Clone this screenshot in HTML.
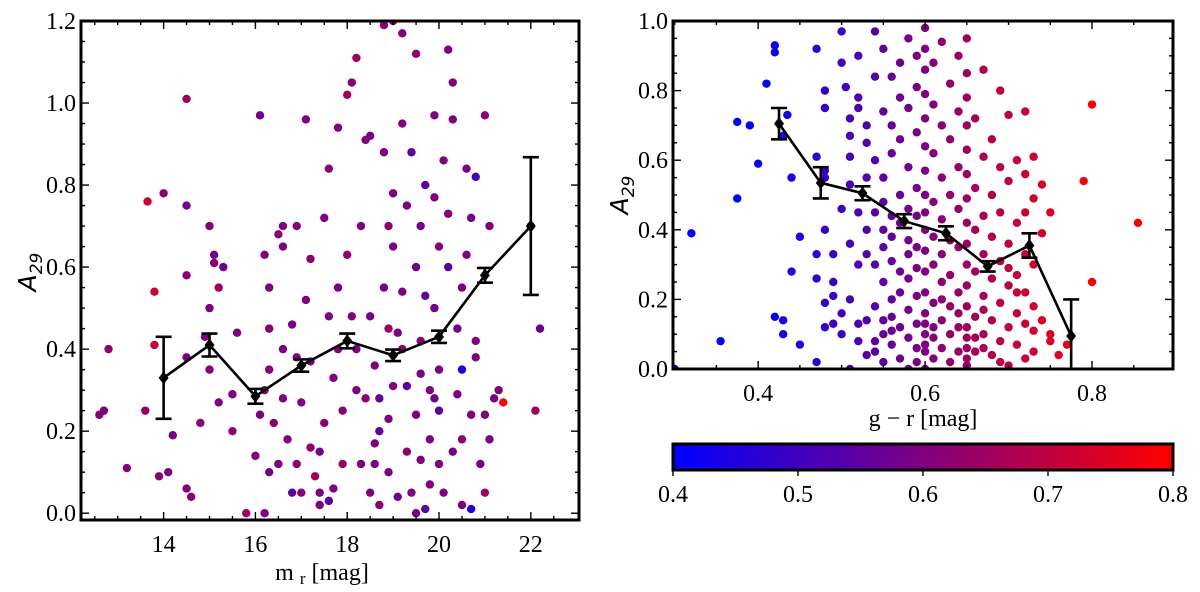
<!DOCTYPE html>
<html><head><meta charset="utf-8"><style>
html,body{margin:0;padding:0;background:#fff;}
svg{display:block;font-family:"Liberation Serif",serif;}
</style></head><body>
<svg id="chart" width="1200" height="592" viewBox="0 0 1200 592" xmlns="http://www.w3.org/2000/svg" font-family="Liberation Serif, serif">
<defs><linearGradient id="cmap" x1="0" x2="1" y1="0" y2="0"><stop offset="0" stop-color="#0000ff"/><stop offset="1" stop-color="#ff0000"/></linearGradient></defs>
<g id="left"></g>
<g id="right"></g>
<g id="cbar"></g>
</svg>
<script>
// ---- Left panel data: m_r, A29, color (g-r) ----
const leftMr=[12.6,12.7,12.8,13.2,13.6,13.65,13.8,13.8,13.9,14.0,14.1,14.2,14.5,14.5,14.5,14.5,14.5,14.6,14.8,14.9,15.0,15.0,15.0,15.1,15.2,15.2,15.3,15.5,15.6,15.5,15.8,16.0,16.1,16.1,16.2,16.3,16.2,16.3,16.3,16.3,16.4,16.5,16.6,16.6,16.6,16.7,16.8,16.8,16.9,16.9,17.0,17.0,17.1,17.1,17.2,17.2,17.3,17.4,17.4,17.4,17.5,17.5,17.6,17.6,17.6,17.7,17.7,17.8,17.9,17.9,18.0,18.0,18.1,18.2,18.1,18.2,18.3,18.3,18.4,18.5,18.5,18.5,18.6,18.6,18.7,18.7,18.7,18.8,18.8,18.8,18.9,18.9,19.0,19.0,19.0,19.1,19.1,19.2,19.2,19.2,19.3,19.3,19.3,19.4,19.4,19.5,19.5,19.5,19.6,19.6,19.6,19.7,19.7,19.7,19.8,19.8,19.8,19.9,19.9,20.0,20.0,20.0,20.0,20.1,20.1,20.2,20.2,20.3,20.3,20.4,20.4,20.5,20.5,20.5,20.6,20.6,20.7,20.7,20.7,20.8,20.8,20.9,21.0,21.0,21.0,21.1,21.1,21.2,21.4,21.3,22.0,22.1,22.2,20.2,19.5,18.4,19.0,19.9,17.8,16.5,16.2,15.1,18.9,20.3,18.6,19.9,17.2,16.6,18.2,19.2,20.5,17.8,16.9,19.6,18.9,20.8];
const leftA=[0.24,0.25,0.40,0.11,0.25,0.76,0.54,0.41,0.09,0.78,0.10,0.19,1.01,0.75,0.58,0.38,0.06,0.04,0.22,0.43,0.70,0.50,0.35,0.61,0.55,0.27,0.60,0.29,0.44,0.20,0.0,0.14,0.24,0.97,0.30,0.10,0.0,0.45,0.55,0.35,0.22,0.12,0.65,0.70,0.40,0.18,0.05,0.46,0.12,0.70,0.05,0.27,0.52,0.96,0.62,0.37,0.09,0.15,0.05,0.02,0.22,0.72,0.84,0.48,0.03,0.06,0.33,0.55,0.25,0.12,1.02,0.63,1.05,1.11,0.48,0.30,0.12,0.70,0.28,0.05,0.48,0.92,0.36,0.17,0.02,0.28,0.20,1.19,0.88,0.55,0.10,0.23,0.31,0.65,0.78,0.04,0.44,1.17,0.95,0.40,0.75,0.15,0.31,0.05,0.88,0.60,0.24,0.0,0.13,0.42,0.70,0.01,0.80,0.53,0.30,0.18,0.07,0.50,0.97,0.12,0.25,0.35,0.65,0.86,0.05,0.60,0.73,0.15,1.05,0.45,0.29,0.02,0.55,0.35,0.84,0.63,0.01,0.24,0.72,0.82,0.42,0.12,0.97,0.24,0.05,0.18,0.70,0.28,0.27,0.30,0.70,0.25,0.45,1.13,1.12,0.91,1.2,0.77,0.94,0.68,0.63,0.63,0.70,0.96,0.12,0.28,0.16,0.28,0.40,0.54,0.18,0.40,0.38,0.34,0.45,0.38];
const leftC=[.62,.6,.62,.6,.63,.72,.72,.72,.62,.62,.6,.6,.65,.58,.62,.6,.62,.62,.62,.6,.6,.6,.62,.62,.65,.6,.58,.6,.6,.62,.65,.6,.6,.58,.62,.58,.6,.62,.6,.62,.62,.6,.6,.6,.6,.6,.55,.6,.62,.62,.62,.6,.6,.6,.62,.6,.65,.58,.6,.6,.62,.6,.62,.6,.55,.6,.6,.6,.62,.65,.65,.62,.62,.65,.6,.6,.6,.6,.62,.6,.58,.58,.6,.6,.62,.55,.55,.62,.6,.6,.6,.6,.62,.6,.6,.58,.6,.6,.6,.62,.6,.62,.55,.6,.55,.58,.6,.58,.6,.62,.58,.55,.55,.55,.6,.6,.6,.58,.6,.6,.55,.6,.62,.6,.6,.55,.6,.58,.6,.58,.6,.6,.6,.45,.6,.6,.45,.6,.58,.5,.6,.6,.62,.6,.65,.6,.6,.6,.8,.6,.6,.65,.58,.6,.62,.6,.6,.6,.6,.62,.6,.58,.62,.6,.6,.58,.62,.6,.6,.6,.62,.6,.6,.6,.65,.6];
// binned means (left)
const binMr=[14,15,16,17,18,19,20,21,22];
const binA=[0.33,0.41,0.285,0.36,0.42,0.385,0.43,0.58,0.70];
const binErr=[0.10,0.028,0.018,0.015,0.018,0.014,0.015,0.018,0.168];
// ---- Right panel data: columns of g-r with A29 values ----
const colGr=[0.30,0.32,0.355,0.375,0.39,0.40,0.41,0.42,0.43,0.435,0.44,0.45,0.47,0.48,0.49,0.50,0.505,0.51,0.52,0.53,0.54,0.55,0.56,0.57,0.58,0.59,0.60,0.61,0.62,0.63,0.64,0.65,0.66,0.67,0.68,0.69,0.70,0.71,0.72,0.73,0.74,0.75,0.76,0.77,0.79,0.80,0.855];
const colA=[[0.0],[0.39],[0.08],[0.71,0.49],[0.70],[0.59],[0.82],[0.93,0.91,0.15],[0.67,0.14,0.10],[0.73],[0.55,0.28],[0.38,0.07],[0.92,0.61,0.26,0.33,0.02],[0.80,0.75,0.57,0.55,0.40,0.19,0.12],[0.33,0.13,0.21,0.25],[0.97,0.88,0.46,0.10,0.16],[0.81],[0.72,0.67,0.61,0.53,0.36,0.20,0.0],[0.90,0.78,0.75,0.45,0.30,0.08,0.13],[0.70,0.65,0.55,0.40,0.33,0.14,0.04],[0.97,0.84,0.60,0.45,0.30,0.18,0.05,0.08],[0.92,0.74,0.55,0.48,0.40,0.35,0.25,0.10,0.02,0.14],[0.84,0.70,0.62,0.44,0.38,0.31,0.20,0.15,0.07,0.11],[0.88,0.78,0.66,0.50,0.42,0.28,0.22,0.12,0.03],[0.95,0.75,0.58,0.46,0.37,0.33,0.26,0.17,0.09,0.0],[0.90,0.81,0.68,0.52,0.44,0.35,0.29,0.21,0.13,0.06,0.02],[0.98,0.92,0.86,0.79,0.72,0.64,0.57,0.50,0.45,0.40,0.34,0.28,0.22,0.16,0.10,0.05,0.0,0.13,0.07],[0.88,0.76,0.62,0.48,0.38,0.30,0.19,0.09,0.03,0.12],[0.94,0.70,0.55,0.43,0.33,0.25,0.14,0.06,0.20],[0.82,0.66,0.50,0.37,0.27,0.18,0.10,0.02],[0.90,0.74,0.58,0.46,0.35,0.22,0.12,0.05,0.16],[0.95,0.85,0.78,0.70,0.63,0.56,0.49,0.42,0.36,0.30,0.24,0.18,0.12,0.06,0.01,0.09,0.03],[0.72,0.52,0.40,0.28,0.15,0.05,0.09],[0.86,0.61,0.44,0.33,0.21,0.10,0.17,0.06],[0.66,0.50,0.38,0.26,0.14,0.04],[0.80,0.58,0.45,0.31,0.19,0.08,0.02],[0.73,0.54,0.36,0.24,0.12,0.01,0.29],[0.60,0.42,0.27,0.16,0.07,0.22],[0.74,0.56,0.45,0.33,0.22,0.13,0.03],[0.61,0.49,0.30,0.18,0.05,0.11],[0.53,0.39,0.14],[0.45,0.10,0.08],[0.04],[0.07],[0.54],[0.76,0.25],[0.42]];
const binGr=[0.425,0.475,0.525,0.575,0.625,0.675,0.725,0.775];
const binGrA=[0.705,0.535,0.505,0.425,0.39,0.295,0.355,0.095];
const binGrErr=[0.045,0.045,0.02,0.02,0.02,0.015,0.035,0.105];
const leftXTicks=[14,16,18,20,22];
const leftYTicks=[0.0,0.2,0.4,0.6,0.8,1.0,1.2];
const rightXTicks=[0.4,0.6,0.8];
const rightYTicks=[0.0,0.2,0.4,0.6,0.8,1.0];
const cbTicks=[0.4,0.5,0.6,0.7,0.8];

const NS='http://www.w3.org/2000/svg';
const FONT='Liberation Serif, serif';
function mk(parent,tag,attrs,text){const e=document.createElementNS(NS,tag);for(const k in attrs)e.setAttribute(k,attrs[k]);if(text!==undefined)e.textContent=text;parent.appendChild(e);return e;}
function cmap(v){let t=(v-0.4)/0.4;t=Math.max(0,Math.min(1,t));return 'rgb('+Math.round(255*t)+',0,'+Math.round(255*(1-t))+')';}

function panel(g,P){
  const sx=v=>P.x0+(v-P.xmin)/(P.xmax-P.xmin)*(P.x1-P.x0);
  const sy=v=>P.y1-(v-P.ymin)/(P.ymax-P.ymin)*(P.y1-P.y0);
  const clip=mk(g,'clipPath',{id:P.id+'clip'});
  mk(clip,'rect',{x:P.x0,y:P.y0,width:P.x1-P.x0,height:P.y1-P.y0});
  const pts=mk(g,'g',{'clip-path':'url(#'+P.id+'clip)'});
  
  
  P.points.forEach(p=>{
    const c=mk(pts,'circle',{cx:sx(p[0]),cy:sy(p[1]),r:4.2,fill:cmap(p[2])});
    
    
  });
  const ln=mk(g,'g',{});
  
  
  mk(ln,'polyline',{points:P.bx.map((x,i)=>sx(x)+','+sy(P.by[i])).join(' '),fill:'none',stroke:'#000','stroke-width':2.6});
  P.bx.forEach((x,i)=>{
    const X=sx(x),lo=sy(Math.max(P.ymin,P.by[i]-P.be[i])),hi=sy(P.by[i]+P.be[i]),Y=sy(P.by[i]);
    const eb=mk(ln,'g',{stroke:'#000','stroke-width':2.6});
    
    
    mk(eb,'line',{x1:X,x2:X,y1:lo,y2:hi});
    mk(eb,'line',{x1:X-8,x2:X+8,y1:hi,y2:hi});
    if(P.by[i]-P.be[i]>P.ymin) mk(eb,'line',{x1:X-8,x2:X+8,y1:lo,y2:lo});
    const d=mk(ln,'path',{d:`M${X} ${Y-6.5}L${X+5} ${Y}L${X} ${Y+6.5}L${X-5} ${Y}Z`,fill:'#000'});
    
    
  });
  const tk=mk(g,'g',{stroke:'#000','stroke-width':1.4});
  for(let v=P.xmin;v<=P.xmax+1e-9;v+=P.xminor){
    const vv=Math.round(v/P.xminor)*P.xminor;const X=sx(vv);if(X<P.x0+1||X>P.x1-1)continue;
    const maj=P.xt.some(t=>Math.abs(t-vv)<1e-6);const L=maj?8:4;
    mk(tk,'line',{x1:X,x2:X,y1:P.y1,y2:P.y1-L});mk(tk,'line',{x1:X,x2:X,y1:P.y0,y2:P.y0+L});
  }
  for(let v=P.ymin;v<=P.ymax+1e-9;v+=P.yminor){
    const vv=Math.round(v/P.yminor)*P.yminor;const Y=sy(vv);if(Y<P.y0+1||Y>P.y1-1)continue;
    const maj=P.yt.some(t=>Math.abs(t-vv)<1e-6);const L=maj?8:4;
    mk(tk,'line',{x1:P.x0,x2:P.x0+L,y1:Y,y2:Y});mk(tk,'line',{x1:P.x1,x2:P.x1-L,y1:Y,y2:Y});
  }
  const fr=mk(g,'rect',{x:P.x0,y:P.y0,width:P.x1-P.x0,height:P.y1-P.y0,fill:'none',stroke:'#000','stroke-width':3});
  
  
  P.xt.forEach(t=>{const e=mk(g,'text',{x:sx(t),y:P.y1+32,'text-anchor':'middle','font-size':24,'font-family':FONT},P.xfmt(t));
    });
  P.yt.forEach(t=>{const e=mk(g,'text',{x:P.x0-5,y:sy(t)+8,'text-anchor':'end','font-size':24,'font-family':FONT},t.toFixed(1));
    });
}

const lp=[];leftMr.forEach((m,i)=>lp.push([m,leftA[i],leftC[i]]));
const rp=[];colGr.forEach((x,i)=>colA[i].forEach(a=>rp.push([x,a,x])));
panel(document.getElementById('left'),{id:'L',x0:81,x1:579,y0:21,y1:520,xmin:12.2,xmax:23.05,ymin:-0.0166,ymax:1.2,xminor:0.5,yminor:0.05,xt:leftXTicks,yt:leftYTicks,xfmt:t=>String(t),points:lp,bx:binMr,by:binA,be:binErr});
panel(document.getElementById('right'),{id:'R',x0:673,x1:1173,y0:21,y1:369,xmin:0.298,xmax:0.897,ymin:0,ymax:1.0,xminor:0.05,yminor:0.05,xt:rightXTicks,yt:rightYTicks,xfmt:t=>t.toFixed(1),points:rp,bx:binGr,by:binGrA,be:binGrErr});

const svg=document.getElementById('chart');
let e;
e=mk(svg,'text',{x:322,y:580,'text-anchor':'middle','font-size':24,'font-family':FONT},'');
e.innerHTML='m <tspan font-size="17" dy="4">r</tspan><tspan dy="-4">  [mag]</tspan>';

e=mk(svg,'text',{x:923,y:426,'text-anchor':'middle','font-size':24,'font-family':FONT},'g − r [mag]');

e=mk(svg,'text',{transform:'translate(36,272) rotate(-90)','text-anchor':'middle','font-size':25,'font-family':'DejaVu Sans, sans-serif','font-style':'italic'},'');
e.innerHTML='A<tspan font-size="17" dy="6">29</tspan>';

e=mk(svg,'text',{transform:'translate(628,195) rotate(-90)','text-anchor':'middle','font-size':25,'font-family':'DejaVu Sans, sans-serif','font-style':'italic'},'');
e.innerHTML='A<tspan font-size="17" dy="6">29</tspan>';


const cb=document.getElementById('cbar');
mk(cb,'rect',{x:673,y:444,width:500,height:26,fill:'url(#cmap)',stroke:'#000','stroke-width':3});
cbTicks.forEach(t=>{const X=673+(t-0.4)/0.4*500;
  mk(cb,'line',{x1:X,x2:X,y1:470,y2:476,stroke:'#000','stroke-width':1.4});
  const l=mk(cb,'text',{x:X,y:502,'text-anchor':'middle','font-size':24,'font-family':FONT},t.toFixed(1));
  });
</script>
</body></html>
